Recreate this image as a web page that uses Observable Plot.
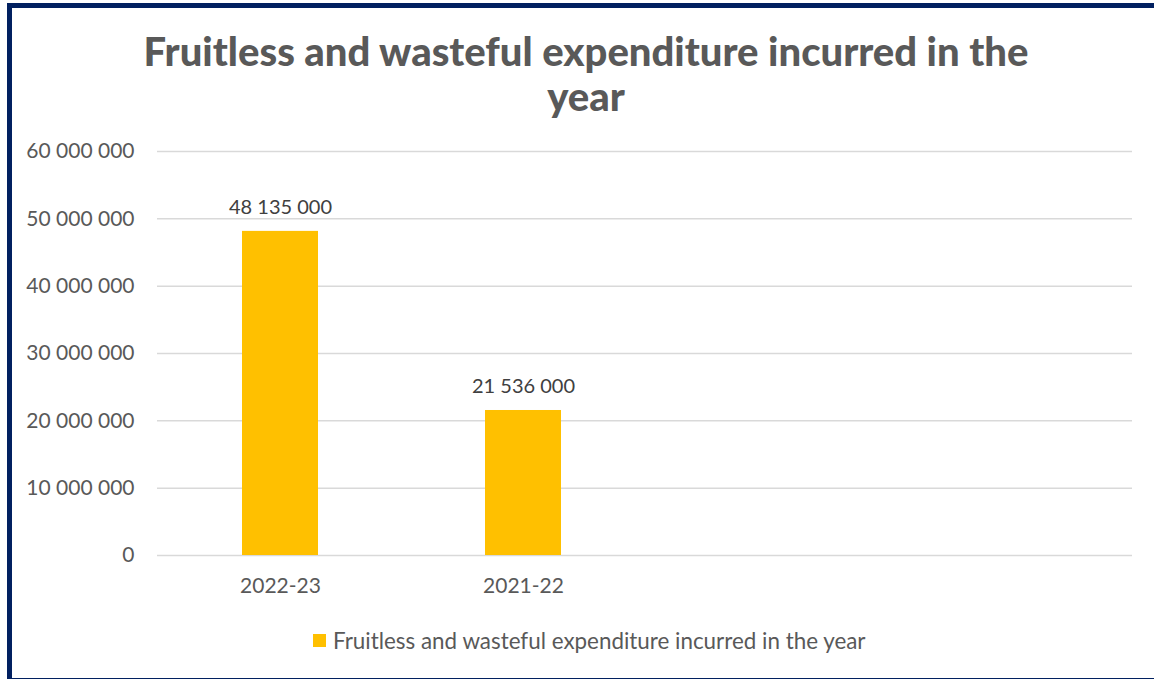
<!DOCTYPE html>
<html>
<head>
<meta charset="utf-8">
<script src="https://cdn.jsdelivr.net/npm/d3@7"></script>
<script src="https://cdn.jsdelivr.net/npm/@observablehq/plot@0.6"></script>
<style>
  html, body { margin: 0; padding: 0; background: #fff; width: 1154px; height: 679px; overflow: hidden; }
  #frame { position: absolute; left: 7px; top: 3px; width: 1170px; height: 680px; border: 5px solid #012060; box-sizing: border-box; }
  #title { position: absolute; left: 86px; width: 1000px; top: 29px; text-align: center; font-family: Lato, sans-serif; font-weight: 900; font-size: 40px; line-height: 45px; color: #595959; }
  #chart { position: absolute; left: 0; top: 0; }
  #legend { position: absolute; left: 313px; top: 627px; font-family: Lato, sans-serif; font-size: 22.4px; color: #595959; display: flex; align-items: center; white-space: nowrap; }
  #legend .sw { width: 13px; height: 13px; background: #FFC000; margin-right: 7px; }
</style>
</head>
<body>
<div id="frame"></div>
<div id="title">Fruitless and wasteful expenditure incurred in the<br>year</div>
<div id="chart"></div>
<div id="legend"><span class="sw"></span><span>Fruitless and wasteful expenditure incurred in the year</span></div>
<script>
const categories = ["2022-23", "2021-22"];
const emptySlots = ["_a", "_b"];
const values = [48135000, 21536000];
const yTicks = [0, 10000000, 20000000, 30000000, 40000000, 50000000, 60000000];
const seriesName = "Fruitless and wasteful expenditure incurred in the year";

const fmt = d3.formatLocale({decimal: ".", thousands: " ", grouping: [3], currency: ["", ""]}).format(",d");
const data = categories.map((c, i) => ({cat: c, value: values[i]}));

const plot = Plot.plot({
  width: 1154,
  height: 600,
  marginLeft: 157,
  marginRight: 22,
  marginTop: 151,
  marginBottom: 45,
  style: {fontFamily: "Lato, sans-serif", background: "transparent"},
  x: {domain: [...categories, ...emptySlots], paddingInner: 0.688, paddingOuter: 0.344, label: null},
  y: {domain: [0, 60000000], label: null},
  marks: [
    Plot.gridY(yTicks, {stroke: "#d9d9d9", strokeOpacity: 1, strokeWidth: 1.5}),
    Plot.axisY(yTicks, {tickSize: 0, tickPadding: 23, tickFormat: fmt, fontSize: 21, fill: "#595959", label: null}),
    Plot.axisX({tickSize: 0, tickPadding: 23, fontSize: 21, fill: "#595959", tickFormat: d => d.startsWith("_") ? "" : d, label: null}),
    Plot.barY(data, {x: "cat", y: "value", fill: "#FFC000"}),
    Plot.text(data, {x: "cat", y: "value", text: d => fmt(d.value), dy: -24, fontSize: 20, fill: "#404040"})
  ]
});
document.getElementById("chart").appendChild(plot);
</script>
</body>
</html>
